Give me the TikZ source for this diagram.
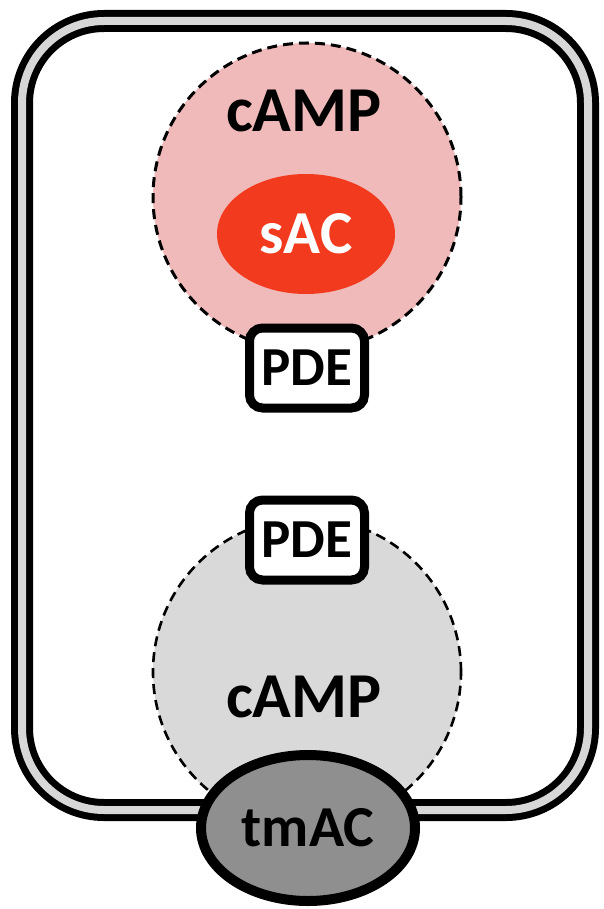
\documentclass[tikz,border=0pt]{standalone}
\usepackage{fontspec}
\setmainfont{Carlito}
\usetikzlibrary{shapes.geometric}
\definecolor{pinkfill}{RGB}{241,186,186}
\definecolor{sacred}{RGB}{242,58,30}
\definecolor{greyfill}{RGB}{217,217,217}
\definecolor{tmgrey}{RGB}{143,143,143}
\definecolor{memgap}{RGB}{215,215,215}
\tikzset{
  compart/.style={circle,minimum size=308pt,inner sep=0pt,draw=black,line width=3pt,dash pattern=on 10pt off 6pt},
  pdebox/.style={draw=black,fill=white,line width=9pt,rounded corners=13pt,minimum width=115pt,minimum height=80pt,inner sep=0pt,font=\fontsize{55}{55}\selectfont\bfseries},
  camplbl/.style={font=\fontsize{64}{64}\selectfont\bfseries,inner sep=0pt},
}
\begin{document}
\begin{tikzpicture}[x=1pt,y=-1pt]
\useasboundingbox (0,0) rectangle (603,909);
% membrane
\draw[line width=22pt,rounded corners=82pt] (22,21) rectangle (588,810);
\draw[line width=8pt,memgap,rounded corners=82pt] (22,21) rectangle (588,810);
% top compartment
\node[compart,fill=pinkfill] (topdom) at (307,197) {};
\node[ellipse,fill=sacred,minimum width=178pt,minimum height=120pt,inner sep=0pt,text=white,font=\fontsize{61}{61}\selectfont\bfseries] (sac) at (306,234) {sAC};
\node[camplbl] (campt) at (304,111) {cAMP};
\node[pdebox] (pdet) at (307,368) {PDE};
% bottom compartment
\node[compart,fill=greyfill,line width=2.6pt] (botdom) at (307,672) {};
\node[pdebox] (pdeb) at (307,540) {PDE};
\node[camplbl] (campb) at (304,697) {cAMP};
\node[ellipse,draw=black,fill=tmgrey,line width=10pt,minimum width=214pt,minimum height=146pt,inner sep=0pt,font=\fontsize{58}{58}\selectfont\bfseries] (tmac) at (308,828) {tmAC};
\end{tikzpicture}
\end{document}
